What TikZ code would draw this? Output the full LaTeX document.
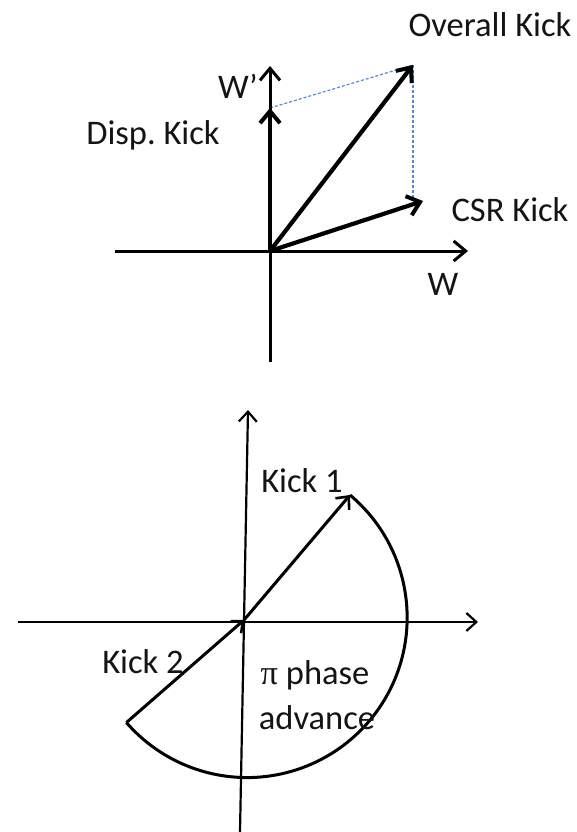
\documentclass[tikz,border=0pt]{standalone}
\usepackage{fontspec}
\setmainfont{Carlito}
\newfontfamily\grk{Liberation Serif}
\usetikzlibrary{arrows.meta}
\definecolor{dashblue}{RGB}{80,140,205}
\definecolor{txt}{RGB}{20,20,20}
\frenchspacing
\begin{document}
\begin{tikzpicture}[x=1pt,y=-1pt,
  lbl/.style={font=\fontsize{34.5}{40}\selectfont, text=txt, inner sep=0pt},
  axisline/.style={line width=3pt, -{Straight Barb[length=12pt,width=20pt,line width=3pt]}},
  kickarrow/.style={line width=4.2pt, -{Straight Barb[length=12pt,width=20pt,line width=4pt]}},
  thinaxis/.style={line width=2.2pt, -{Straight Barb[length=10pt,width=18pt,line width=2.2pt]}},
  dashline/.style={dashblue, line width=1.2pt, dash pattern=on 3pt off 2pt}]
\useasboundingbox (0,0) rectangle (577,832);
% ---------- top diagram ----------
\coordinate (O) at (270,251);
\coordinate (xl) at (115,251);
\coordinate (xr) at (468,251);
\coordinate (yb) at (270,362);
\coordinate (yt) at (270,66);
\coordinate (disp) at (270,108);
\coordinate (over) at (413,65);
\coordinate (csr) at (423,201);
\coordinate (csrfoot) at (413,201);
\draw[dashline] (disp) -- (over);
\draw[dashline] (over) -- (csrfoot);
\draw[axisline] (xl) -- (xr);
\draw[axisline] (yb) -- (yt);
\draw[kickarrow] (O) -- (disp);
\draw[kickarrow] (O) -- (over);
\draw[kickarrow] (O) -- (csr);
\node[lbl] (lover) at (490,25) {Overall Kick};
\node[lbl] (lwp) at (238,86) {W’};
\node[lbl] (ldisp) at (153,135) {Disp. Kick};
\node[lbl] (lcsr) at (510,210) {CSR Kick};
\node[lbl] (lw) at (443,284) {W};
% ---------- bottom diagram ----------
\coordinate (C) at (244,620);
\coordinate (bxl) at (18,622);
\coordinate (bxr) at (478,622);
\coordinate (byb) at (240,832);
\coordinate (byt) at (248,410);
\draw[thinaxis] (bxl) -- (bxr);
\draw[thinaxis] (byb) -- (byt);
\coordinate (K1) at (350,495);
\draw[line width=3pt] (K1) arc[start angle=-50, end angle=139, radius=160] coordinate (K2);
\draw[line width=3pt, -{Straight Barb[length=9pt,width=16pt,line width=2.4pt]}] (K2) -- (C);
\draw[line width=3pt, -{Straight Barb[length=10pt,width=18pt,line width=2.6pt]}] (C) -- (K1);
\node[lbl] (lk1) at (302,481) {Kick 1};
\node[lbl] (lk2) at (143,662) {Kick 2};
\node[lbl] (lpi) at (315,675) {{\grk π} phase};
\node[lbl] (ladv) at (317,718) {advance};
\end{tikzpicture}
\end{document}
